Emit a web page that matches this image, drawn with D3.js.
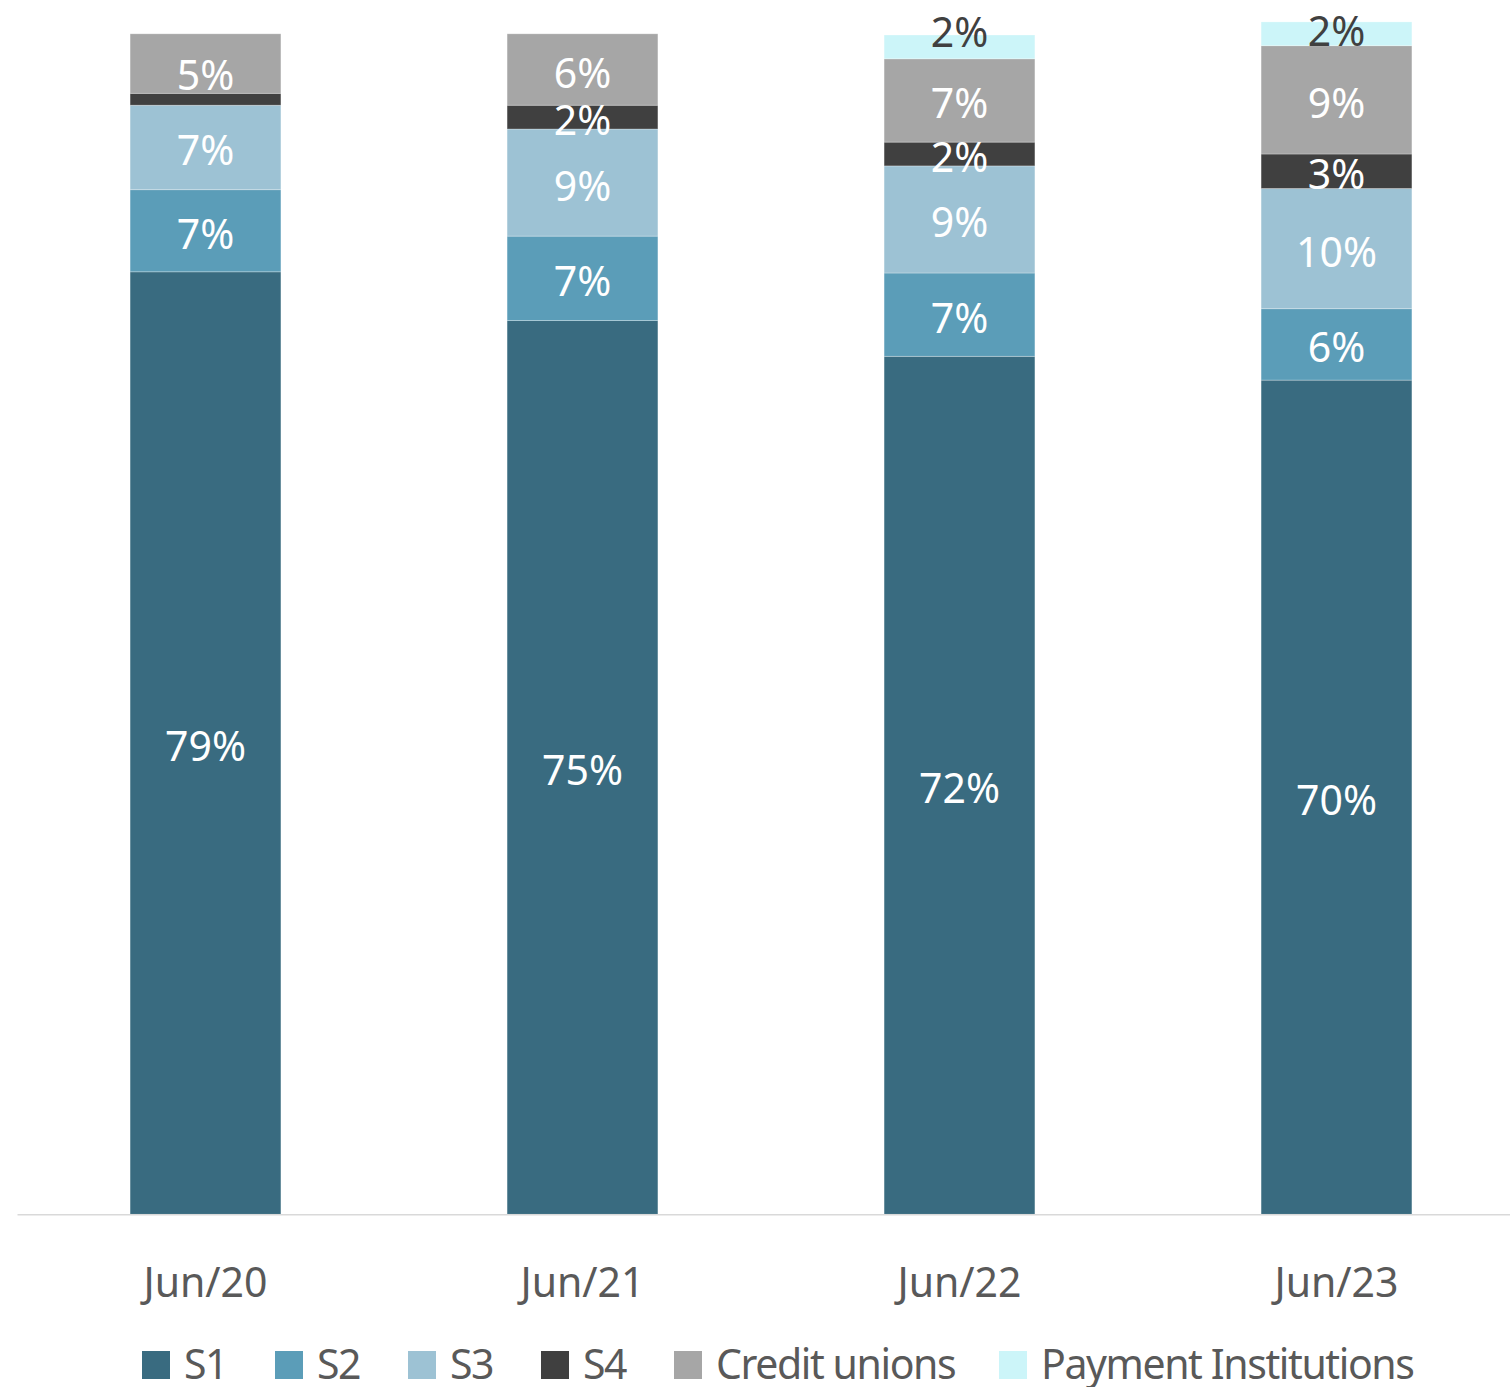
<!DOCTYPE html>
<html>
<head>
<meta charset="utf-8">
<script src="https://cdn.jsdelivr.net/npm/d3@7"></script>
<style>
  html, body { margin: 0; padding: 0; background: #fff; }
  svg { display: block; }
  text { font-family: "Noto Sans", "Open Sans", sans-serif; }
</style>
</head>
<body>
<svg id="chart" width="1510" height="1387"></svg>
<script>
// ---- data ----
const categories = ["Jun/20", "Jun/21", "Jun/22", "Jun/23"];
const seriesNames = ["S1", "S2", "S3", "S4", "Credit unions", "Payment Institutions"];
const S1 = [79.2, 75.1, 72.1, 70.1];
const S2 = [6.9, 7.1, 7.0, 6.0];
const S3 = [7.1, 9.0, 9.0, 10.1];
const S4 = [1.0, 2.0, 2.0, 2.9];
const creditUnions = [5.0, 6.0, 7.0, 9.1];
const paymentInstitutions = [0, 0, 2.0, 2.0];
const seriesValues = [S1, S2, S3, S4, creditUnions, paymentInstitutions];

// ---- styles ----
const colors = ["#396b80", "#5b9db8", "#9dc2d4", "#404040", "#a6a6a6", "#ccf5f9"];
const labelColors = ["#fff", "#fff", "#fff", "#fff", "#fff", "#404040"];
const labelNudge = { "Jun/20|Credit unions": 8, "Jun/22|Payment Institutions": -18, "Jun/23|Payment Institutions": -6 };

const svg = d3.select("#chart");
const baseY = 1214.3;
const x = d3.scaleBand().domain(categories).range([17, 1525]).paddingInner(0.6).paddingOuter(0.3);
const y = d3.scaleLinear().domain([0, 100]).range([baseY, baseY - 1190]);

const table = categories.map((c, i) => {
  const row = { cat: c };
  seriesNames.forEach((s, j) => row[s] = seriesValues[j][i]);
  return row;
});
const stacked = d3.stack().keys(seriesNames)(table);

// bars
const layers = svg.append("g").selectAll("g").data(stacked).join("g")
  .attr("fill", (d, i) => colors[i]);
layers.selectAll("rect").data(d => d.map(p => ({ p, key: d.key })))
  .join("rect")
  .attr("x", d => x(d.p.data.cat))
  .attr("width", x.bandwidth())
  .attr("y", d => y(d.p[1]))
  .attr("height", d => Math.max(0, y(d.p[0]) - y(d.p[1])))
  .attr("stroke", "#ffffff")
  .attr("stroke-opacity", 0.35)
  .attr("stroke-width", 0.8);

// axis
const axis = svg.append("g").attr("transform", `translate(0,${baseY})`)
  .call(d3.axisBottom(x).tickSize(0).tickSizeOuter(0));
axis.select(".domain").attr("stroke", "#d9d9d9").attr("stroke-width", 1.6);
axis.selectAll(".tick text")
  .attr("y", 1297 - baseY).attr("dy", 0)
  .attr("fill", "#595959")
  .style("font-size", "41px")
  .style("font-family", "'Noto Sans', sans-serif");

// labels
const labelG = svg.append("g");
stacked.forEach((layer, i) => {
  layer.forEach(p => {
    const v = p[1] - p[0];
    if (v < 1.5) return;
    const key = p.data.cat + "|" + layer.key;
    const cy = (y(p[0]) + y(p[1])) / 2 + 18 + (labelNudge[key] || 0);
    labelG.append("text")
      .attr("x", x(p.data.cat) + x.bandwidth() / 2)
      .attr("y", cy)
      .attr("text-anchor", "middle")
      .attr("fill", labelColors[i])
      .style("font-size", "41px")
      .text(Math.round(v) + "%");
  });
});

// legend
const legendX = [142, 275, 408, 541, 674, 999];
const leg = svg.append("g");
seriesNames.forEach((s, i) => {
  leg.append("rect").attr("x", legendX[i]).attr("y", 1351).attr("width", 28).attr("height", 28).attr("fill", colors[i]);
  leg.append("text").attr("x", legendX[i] + 42).attr("y", 1379)
    .attr("fill", "#595959")
    .style("font-size", "41px")
    .style("letter-spacing", "-1.4px")
    .text(s);
});
</script>
</body>
</html>
